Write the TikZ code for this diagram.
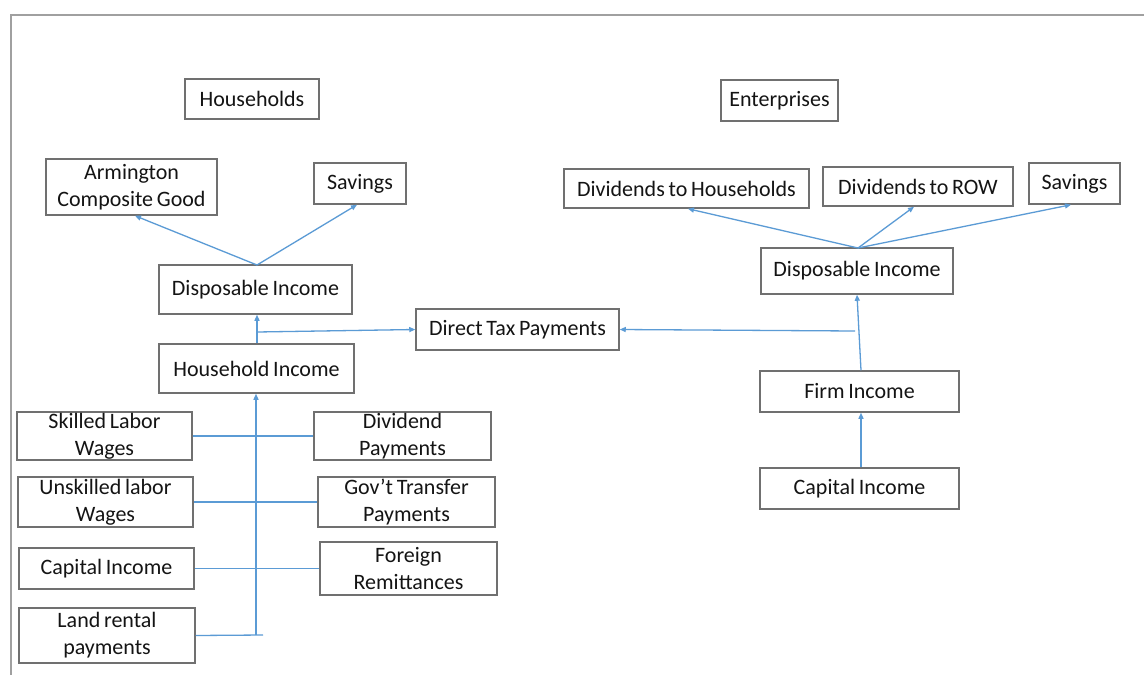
\documentclass[tikz,border=0pt]{standalone}
\usepackage{fontspec}
\setmainfont[WordSpace=0.75]{Carlito}
\usetikzlibrary{arrows.meta}
\definecolor{boxc}{RGB}{112,112,112}
\definecolor{linec}{RGB}{91,155,213}
\definecolor{textc}{RGB}{20,20,20}
\definecolor{framec}{RGB}{160,160,160}
\tikzset{
  bx/.style={draw=boxc, line width=1.5pt, inner sep=0pt, align=center, text=textc,
             font=\fontsize{22}{27}\selectfont},
  arr/.style={draw=linec, line width=1.3pt, -{Triangle[length=6pt,width=5pt]}},
  ln/.style={draw=linec, line width=1.3pt},
}
\begin{document}
\begin{tikzpicture}[x=1pt,y=-1pt]
\useasboundingbox (0,0) rectangle (1144,675);
\fill[white] (0,0) rectangle (1144,675);
\draw[framec, line width=2pt] (11,675) -- (11,15) -- (1144,15);

% Households side
\node[bx, minimum width=134pt, minimum height=40pt] (hh) at (252,99) {Households};
\node[bx, minimum width=171pt, minimum height=56pt] (arm) at (131.5,187) {Armington\\Composite Good};
\node[bx, minimum width=92pt, minimum height=41pt] (savL) at (360,183.5) {Savings};
\node[bx, minimum width=193pt, minimum height=49pt] (diL) at (255.5,289.5) {Disposable Income};
\node[bx, minimum width=195pt, minimum height=49pt] (hhi) at (256.5,368.5) {Household Income};
\node[bx, minimum width=203pt, minimum height=41pt] (dtp) at (517.5,329.5) {Direct Tax Payments};
\node[bx, minimum width=175pt, minimum height=48pt] (slw) at (104.5,436) {Skilled Labor\\Wages};
\node[bx, minimum width=177pt, minimum height=48pt] (divp) at (402.5,436) {Dividend\\Payments};
\node[bx, minimum width=175pt, minimum height=50pt] (ulw) at (105.5,502) {Unskilled labor\\Wages};
\node[bx, minimum width=177pt, minimum height=50pt] (gtp) at (406.5,502) {Gov’t Transfer\\Payments};
\node[bx, minimum width=175pt, minimum height=41pt] (capL) at (106.5,568.5) {Capital Income};
\node[bx, minimum width=177pt, minimum height=53pt] (frem) at (408.5,568.5) {Foreign\\Remittances};
\node[bx, minimum width=176pt, minimum height=55pt] (lrp) at (107,635.5) {Land rental\\payments};

% Enterprises side
\node[bx, minimum width=117pt, minimum height=41pt] (ent) at (779.5,100.5) {Enterprises};
\node[bx, minimum width=245pt, minimum height=39pt] (dth) at (686.5,188.5) {Dividends to Households};
\node[bx, minimum width=190pt, minimum height=39pt] (dtr) at (918,186.5) {Dividends to ROW};
\node[bx, minimum width=91pt, minimum height=41pt] (savR) at (1074.5,183.5) {Savings};
\node[bx, minimum width=192pt, minimum height=46pt] (diR) at (857,271) {Disposable Income};
\node[bx, minimum width=199pt, minimum height=41pt] (firm) at (859.5,391.5) {Firm Income};
\node[bx, minimum width=199pt, minimum height=41pt] (capR) at (859.5,488.5) {Capital Income};

% coordinates for free ends
\coordinate (trunkB) at (256,635);
\coordinate (trunkE) at (263,635);
\coordinate (brL) at (257,332);
\coordinate (brR) at (855,331);
\coordinate (diLtop) at (257,265);
\coordinate (diRtop) at (858,248);

% Household connectors
\draw[arr] (diLtop) -- ([xshift=3.5pt]arm.south);
\draw[arr] (diLtop) -- ([xshift=-3pt]savL.south);
\draw[arr] (hhi.north -| diLtop) -- (diL.south -| diLtop);
\draw[arr] (brL) -- (dtp.west);
\draw[arr] (trunkB) -- (hhi.south -| trunkB);
\draw[ln] (slw.east) -- (divp.west);
\draw[ln] (ulw.east) -- (gtp.west);
\draw[ln] (capL.east) -- (frem.west);
\draw[ln] (lrp.east) -- (trunkE);

% Enterprise connectors
\draw[arr] (diRtop) -- ([xshift=1.5pt]dth.south);
\draw[arr] (diRtop) -- ([xshift=-4pt]dtr.south);
\draw[arr] (diRtop) -- ([xshift=-3.5pt]savR.south);
\draw[arr] ([xshift=1.5pt]firm.north) -- (diR.south);
\draw[arr] ([xshift=1.5pt]capR.north) -- ([xshift=1.5pt]firm.south);
\draw[arr] (brR) -- (dtp.east);
\end{tikzpicture}
\end{document}
